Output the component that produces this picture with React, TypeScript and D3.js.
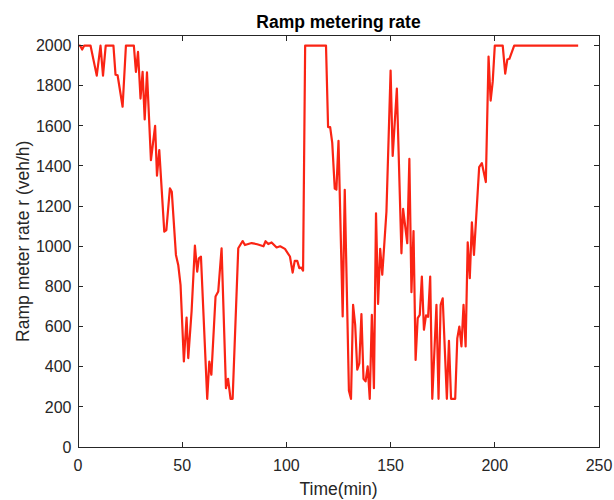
import React from "react";
import * as d3 from "d3";

const times: number[] = [
  0, 1, 2, 3, 6, 9, 10.8, 12, 13.3, 17, 18, 19, 21.4, 23, 26.8, 27.8, 28.8, 30, 31, 32, 33.1,
  35, 37, 37.9, 39, 41.4, 42.4, 44.1, 45, 47, 48.1, 49.2, 50.8, 52.1, 52.9, 54.5, 56.1, 57.2,
  58, 59, 62, 63, 64, 66, 67.3, 68.9, 71, 72, 73.2, 74.2, 76.9, 79, 80.1, 83.3, 86, 89, 90,
  91.3, 92.9, 95.3, 97, 99.3, 101.7, 103, 104, 105.2, 106.2, 107.1, 108, 109, 119, 120, 121,
  122, 123.2, 124, 125, 127, 128, 130, 131, 132, 133, 134, 135, 136, 137, 138, 139, 140, 141,
  142, 143, 144, 145, 146, 148, 150, 151, 153, 155.2, 156, 158, 159, 160, 161, 162, 163, 164,
  165, 166, 167, 168, 169, 170, 172, 173, 174, 175, 177, 178, 179, 181, 182, 183, 184, 185,
  186, 187, 188, 189, 190, 192.5, 193.8, 195.7, 197, 198, 199, 200, 203.8, 205, 206, 207,
  209.3, 240,
];

const rates: number[] = [
  2000, 2000, 1980, 2000, 2000, 1850, 2000, 1850, 2000, 2000, 1855, 1852, 1695, 2000, 2000,
  1869, 1968, 1736, 1869, 1632, 1866, 1429, 1600, 1352, 1479, 1073, 1081, 1289, 1272, 957,
  907, 808, 426, 645, 443, 675, 1003, 874, 940, 948, 240, 426, 360, 750, 775, 990, 293, 340,
  240, 240, 990, 1026, 1006, 1016, 1010, 1000, 1025, 1011, 1019, 994, 1000, 987, 949, 869,
  927, 927, 891, 894, 879, 2000, 2000, 1594, 1594, 1515, 1287, 1282, 1525, 650, 1281, 280,
  240, 708, 609, 385, 417, 662, 340, 327, 402, 240, 658, 293, 1164, 713, 987, 858, 1172, 1875,
  1450, 1786, 965, 1186, 1015, 1435, 771, 1076, 434, 642, 658, 849, 584, 656, 648, 849, 240,
  708, 240, 708, 741, 240, 529, 240, 240, 541, 600, 501, 708, 501, 1020, 841, 1119, 957, 1394,
  1414, 1320, 1945, 1726, 1820, 2000, 2000, 1860, 1930, 1934, 2000, 2000,
];

const xTicks: number[] = [0, 50, 100, 150, 200, 250];
const yTicks: number[] = [0, 200, 400, 600, 800, 1000, 1200, 1400, 1600, 1800, 2000];

const titleText = "Ramp metering rate";
const xLabel = "Time(min)";
const yLabel = "Ramp meter rate r (veh/h)";

export default function App() {
  const W = 614;
  const H = 500;
  const left = 78;
  const right = 599;
  const top = 35.5;
  const bottom = 447;
  const x = d3.scaleLinear().domain([0, 250]).range([left, right]);
  const y = d3.scaleLinear().domain([0, 2050]).range([bottom, top]);
  const pts: [number, number][] = times.map((t, i) => [t, rates[i]]);
  const line = d3
    .line<[number, number]>()
    .x((d) => x(d[0]))
    .y((d) => y(d[1]));
  const axisColor = "#262626";
  const font = "'Liberation Sans', Arial, Helvetica, sans-serif";
  const tl = 5;
  return (
    <svg
      width={W}
      height={H}
      style={{ position: "absolute", left: 0, top: 0, background: "#fff" }}
    >
      <rect x={0} y={0} width={W} height={H} fill="#fff" />
      <path
        d={line(pts) || ""}
        fill="none"
        stroke="#fa2414"
        strokeWidth={2.2}
        strokeLinejoin="round"
      />
      <rect
        x={left}
        y={top}
        width={right - left}
        height={bottom - top}
        fill="none"
        stroke={axisColor}
        strokeWidth={1}
        shapeRendering="crispEdges"
      />
      {xTicks.map((t) => (
        <g key={"x" + t}>
          <line x1={x(t)} x2={x(t)} y1={bottom} y2={bottom - tl} stroke={axisColor} shapeRendering="crispEdges" />
          <line x1={x(t)} x2={x(t)} y1={top} y2={top + tl} stroke={axisColor} shapeRendering="crispEdges" />
          <text
            x={x(t)}
            y={bottom + 24}
            textAnchor="middle"
            fontFamily={font}
            fontSize={16}
            fill={axisColor}
          >
            {t}
          </text>
        </g>
      ))}
      {yTicks.map((v) => (
        <g key={"y" + v}>
          <line x1={left} x2={left + tl} y1={y(v)} y2={y(v)} stroke={axisColor} shapeRendering="crispEdges" />
          <line x1={right} x2={right - tl} y1={y(v)} y2={y(v)} stroke={axisColor} shapeRendering="crispEdges" />
          <text
            x={left - 6.5}
            y={y(v) + 5.7}
            textAnchor="end"
            fontFamily={font}
            fontSize={16}
            fill={axisColor}
          >
            {v}
          </text>
        </g>
      ))}
      <text
        x={(left + right) / 2}
        y={28.3}
        textAnchor="middle"
        fontFamily={font}
        fontSize={17.5}
        fontWeight="bold"
        fill="#000"
      >
        {titleText}
      </text>
      <text
        x={(left + right) / 2}
        y={494.5}
        textAnchor="middle"
        fontFamily={font}
        fontSize={17.5}
        fill={axisColor}
      >
        {xLabel}
      </text>
      <text
        transform={`translate(28.5, ${(top + bottom) / 2}) rotate(-90)`}
        textAnchor="middle"
        fontFamily={font}
        fontSize={17.5}
        fill={axisColor}
      >
        {yLabel}
      </text>
    </svg>
  );
}
